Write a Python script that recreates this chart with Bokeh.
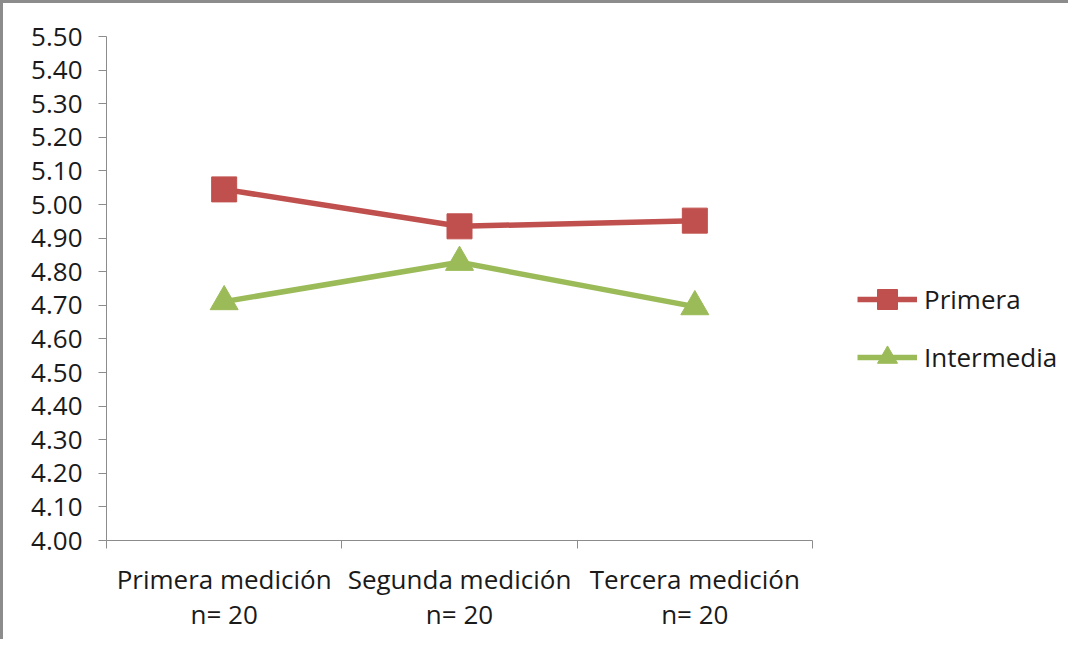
from bokeh.plotting import figure
from bokeh.models import FixedTicker, NumeralTickFormatter, Legend, LegendItem, Range1d
from bokeh.embed import file_html
from bokeh.resources import INLINE

categories = ["Primera medición\nn= 20", "Segunda medición\nn= 20", "Tercera medición\nn= 20"]
x_pos = [0.5, 1.5, 2.5]
primera = [5.045, 4.935, 4.952]
intermedia = [4.711, 4.828, 4.696]
y_ticks = [4.0, 4.1, 4.2, 4.3, 4.4, 4.5, 4.6, 4.7, 4.8, 4.9, 5.0, 5.1, 5.2, 5.3, 5.4, 5.5]

FONT = "Open Sans"
TXT = "#1a1a1a"
AX = "#8c8c8c"
FS = "26px"

W, H = 1068, 639
LEFT, TOP, BOTTOM, RIGHT = 103, 33, 102, 5
FRAME_W = W - LEFT - RIGHT
AXIS_W = 706  # pixel length of the category axis
x_end = 3 * FRAME_W / AXIS_W

p = figure(width=W, height=H, output_backend="svg", toolbar_location=None,
           x_range=Range1d(0, x_end), y_range=Range1d(4.0, 5.5),
           min_border_left=LEFT, min_border_top=TOP, min_border_right=RIGHT, min_border_bottom=BOTTOM)
p.styles = {"border-top": "3px solid #8c8c8c", "border-left": "3px solid #8c8c8c"}
p.outline_line_color = None
p.xgrid.visible = False
p.ygrid.visible = False

p.yaxis.ticker = FixedTicker(ticks=y_ticks)
p.yaxis.formatter = NumeralTickFormatter(format="0.00")
p.yaxis.major_tick_out = 8
p.yaxis.major_tick_in = 0
p.yaxis.minor_tick_out = 0
p.yaxis.minor_tick_in = 0
p.yaxis.axis_line_color = AX
p.yaxis.major_tick_line_color = AX
p.yaxis.major_label_text_font = FONT
p.yaxis.major_label_text_font_size = FS
p.yaxis.major_label_text_color = TXT
p.yaxis.major_label_standoff = 16

p.xaxis.bounds = (0, 3)
p.xaxis.ticker = FixedTicker(ticks=x_pos, minor_ticks=[0, 1, 2, 3])
p.xaxis.major_label_overrides = {x: c for x, c in zip(x_pos, categories)}
p.xaxis.major_tick_out = 0
p.xaxis.major_tick_in = 0
p.xaxis.minor_tick_out = 8
p.xaxis.minor_tick_in = 0
p.xaxis.minor_tick_line_color = AX
p.xaxis.axis_line_color = AX
p.xaxis.major_label_text_font = FONT
p.xaxis.major_label_text_font_size = FS
p.xaxis.major_label_text_color = TXT
p.xaxis.major_label_text_line_height = 0.98
p.xaxis.major_label_standoff = 12

RED = "#C0504D"
GREEN = "#9BBB59"
l1 = p.line(x_pos, primera, line_color=RED, line_width=5.5)
s1 = p.scatter(x_pos, primera, marker="square", size=25, fill_color=RED, line_color=RED)
l2 = p.line(x_pos, intermedia, line_color=GREEN, line_width=5.5)
s2 = p.scatter(x_pos, intermedia, marker="triangle", size=28, fill_color=GREEN, line_color=GREEN)

legend = Legend(items=[LegendItem(label="Primera", renderers=[l1, s1]),
                       LegendItem(label="Intermedia", renderers=[l2, s2])],
                location=(751, 158), padding=0, margin=0, spacing=8,
                glyph_width=60, glyph_height=50, label_height=50, label_standoff=7,
                label_text_font=FONT, label_text_font_size=FS, label_text_color=TXT,
                border_line_alpha=0, background_fill_alpha=0)
p.add_layout(legend)

open("out.html", "w").write(file_html(p, INLINE))
